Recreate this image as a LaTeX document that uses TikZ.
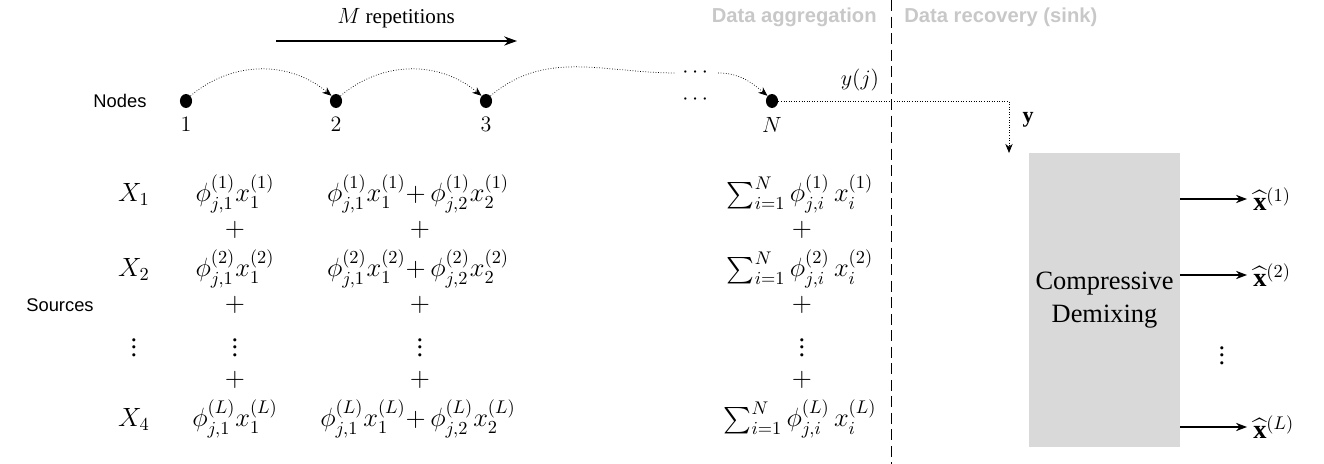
\documentclass[tikz,border=0pt]{standalone}
\usepackage{amsmath, amssymb}
\usepackage{fontspec}
\setmainfont{Liberation Serif}
\newfontfamily\helvfont{Liberation Sans}
\usetikzlibrary{arrows.meta, shapes.geometric, positioning, calc}
\definecolor{headgray}{RGB}{200, 200, 200}
\definecolor{boxgray}{RGB}{217, 217, 217}

\begin{document}
\begin{tikzpicture}[x=0.545pt, y=-0.545pt, every node/.style={font=\large},
    sidelabel/.style={font=\helvfont\normalsize},
    headlabel/.style={font=\helvfont\bfseries\fontsize{11}{13}\selectfont, text=headgray, inner sep=0pt},
    term/.style={font=\Large, anchor=base},
    sensor/.style={ellipse, fill=black, inner sep=0pt, minimum width=6.6pt, minimum height=7.6pt},
    hop/.style={densely dotted, -{Stealth[length=5pt, width=4pt]}}]
  \useasboundingbox (0,0) rectangle (1324,464);
  % Header and split
  \node[headlabel, anchor=east] (agg) at (877,17) {Data aggregation};
  \node[headlabel, anchor=west] (rec) at (904,17) {Data recovery (sink)};
  \coordinate (dtop) at (891,0);
  \coordinate (dbot) at (891,464);
  \draw[dash pattern=on 6pt off 3pt] (dtop) -- (dbot);
  % Repetitions arrow
  \node[font=\fontsize{11.5}{13}\selectfont] (rep) at (396,18) {$M$ repetitions};
  \coordinate (repa) at (276,41);
  \coordinate (repb) at (517,41);
  \draw[thick, -{Stealth[length=7pt, width=5pt]}] (repa) -- (repb);
  % Nodes row
  \node[sidelabel] (nodes) at (120,101) {Nodes};
  \foreach \name/\xpos/\lab in {n1/186/1, n2/336/2, n3/486/3, nN/772/N}{
    \node[sensor] (\name) at (\xpos,101) {};
    \node[below=1.5pt of \name] (\name lab) {$\lab$};
  }
  \foreach \a/\b in {n1/n2, n2/n3}
    \draw[hop] (\a.north east) to[bend left=40] (\b.north west);
  \node (topdots) at (697,73) {$\cdots$};
  \node (middots) at (697,100) {$\cdots$};
  \draw[densely dotted] (n3.north east) to[out=40, in=180] (topdots.west);
  \draw[hop] (topdots.east) to[out=0, in=140] (nN.north west);
  % Sink
  \node[fill=boxgray, minimum width=82.3pt, minimum height=160.2pt, align=center,
    outer sep=0pt, font=\Large] (demix) at (1104.5,300) {Compressive\\Demixing};
  \coordinate (turn) at (1009,101);
  \draw[hop] (nN.east) -- (turn) -- (turn |- demix.north);
  \node (yj) at (860,80) {$y(j)$};
  \node (yvec) at (1028,120) {$\mathbf{y}$};
  \foreach \i/\ypos in {1/199, 2/275, L/427}{
    \coordinate (h\i) at (0,\ypos);
    \draw[thick, -{Stealth[length=6pt, width=4.5pt]}] (demix.east |- h\i) -- ++(67,0)
      node[right, inner sep=3pt, font=\Large] (xhat\i) {$\widehat{\mathbf{x}}^{(\i)}$};
  }
  \node[font=\Large] (odots) at (1222,350) {$\vdots$};
  % Sources and sums
  \node[sidelabel] (sources) at (60,305) {Sources};
  \node[term] (X1) at (134,202) {$X_1$};
  \node[term] (X2) at (134,277) {$X_2$};
  \node[font=\Large] (Xdots) at (134,342) {$\vdots$};
  \node[term] (X4) at (134,427) {$X_4$};
  \foreach \k/\ypos in {1/202, 2/277, L/427}{
    \node[term] (a\k) at (235,\ypos) {$\phi^{(\k)}_{j,1}x^{(\k)}_1$};
    \node[term] (b\k) at (418,\ypos)
      {$\phi^{(\k)}_{j,1}x^{(\k)}_1{+}\,\phi^{(\k)}_{j,2}x^{(\k)}_2$};
    \node[term] (c\k) at (800,\ypos) {$\sum_{i=1}^N \phi^{(\k)}_{j,i}\,x^{(\k)}_i$};
  }
  \foreach \col/\xpos in {a/235, b/420, c/802}{
    \foreach \r/\ypos in {1/230, 2/305, 3/380}
      \node[font=\Large] (plus\col\r) at (\xpos,\ypos) {$+$};
    \node[font=\Large] (vd\col) at (\xpos,342) {$\vdots$};
  }
\end{tikzpicture}
\end{document}
